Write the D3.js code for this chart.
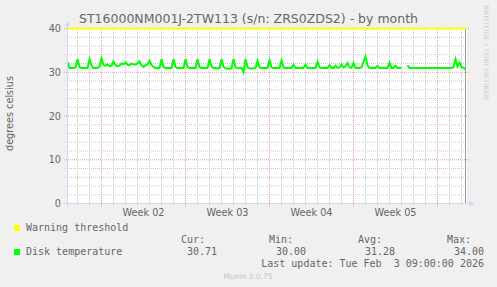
<!DOCTYPE html>
<html><head><meta charset="utf-8">
<script src="https://cdn.jsdelivr.net/npm/d3@7"></script>
<style>body{margin:0;background:#f0f0f0}svg{display:block}</style>
</head><body><svg id="c" width="497" height="287"></svg>
<script>
// ---- data ----
const title = "ST16000NM001J-2TW113 (s/n: ZRS0ZDS2) - by month";
const yLabel = "degrees celsius";
const yTicks = [0, 10, 20, 30, 40];
const weekLabels = ["Week 02", "Week 03", "Week 04", "Week 05"];
const weekStarts = ["2026-01-05", "2026-01-12", "2026-01-19", "2026-01-26"];
const viewStart = "2026-01-02T04:00:00Z";
const viewEnd = "2026-02-04T12:00:00Z";
const sampleStart = "2026-01-02T04:00:00Z";
const sampleStepHours = 4;
const warningThreshold = 40;
const temps = [
32.3,31.0,31.0,31.0,31.1,33.0,31.2,31.0,31.0,31.0,
31.0,33.0,31.6,31.0,31.0,31.0,31.3,33.2,31.6,31.5,
31.8,31.4,31.5,32.5,31.6,31.4,31.5,32.0,31.8,32.3,
31.7,31.6,32.0,31.8,31.8,32.0,32.5,31.6,31.2,31.6,
31.8,32.6,31.6,31.2,31.0,31.0,31.0,33.0,31.2,31.0,
31.0,31.0,31.0,33.0,31.2,31.0,31.0,31.0,31.0,33.0,
31.2,31.0,31.0,31.0,31.0,33.0,31.2,31.0,31.0,31.0,
31.0,33.0,31.3,31.0,31.0,30.9,30.9,33.0,31.2,30.9,
30.8,30.8,30.9,33.0,31.1,31.0,30.9,31.0,30.0,33.0,
31.2,30.9,30.8,30.9,31.0,32.6,31.1,31.0,31.0,31.0,
31.0,32.7,31.1,31.0,31.0,31.0,31.0,32.7,31.1,31.0,
31.0,31.0,31.0,31.7,31.0,31.0,31.0,31.0,31.0,31.7,
31.0,31.0,31.0,31.0,31.0,32.4,31.1,31.0,31.0,31.0,
31.0,31.6,31.0,31.0,31.5,31.0,31.1,31.8,31.1,31.3,
32.1,31.1,31.0,32.1,31.0,31.0,31.0,31.1,32.3,33.6,
31.6,31.0,31.0,31.0,31.0,31.4,31.0,31.0,31.0,31.0,
31.0,32.2,31.0,31.0,31.5,31.0,31.0,31.0,null,null,
31.6,31.0,31.0,31.0,31.0,31.0,31.0,31.0,31.0,31.0,
31.0,31.0,31.0,31.0,31.0,31.0,31.0,31.0,31.0,31.0,
31.0,31.0,31.0,31.2,33.0,31.3,32.2,31.2,31.0,30.7
];
const legendNames = ["Warning threshold", "Disk temperature"];
const statHeaders = ["Cur:", "Min:", "Avg:", "Max:"];
const statValues = ["30.71", "30.00", "31.28", "34.00"];
const lastUpdate = "Last update: Tue Feb  3 09:00:00 2026";
const version = "Munin 2.0.75";

// ---- drawing ----
const svg = d3.select("#c");
const FONT = "#666666", SANS = "'DejaVu Sans', sans-serif", MONO = "'DejaVu Sans Mono', monospace";
const x = d3.scaleUtc().domain([new Date(viewStart), new Date(viewEnd)]).range([67.5, 467.5]);
const y = d3.scaleLinear().domain([0, 40]).range([203.5, 28.5]);
const X0 = 67, X1 = 467, YT = 28, YB = 204;

svg.append("rect").attr("width", 497).attr("height", 287).attr("fill", "#f0f0f0");
svg.append("rect").attr("x", X0).attr("y", YT).attr("width", X1 - X0).attr("height", YB - YT).attr("fill", "#fff");

const g = svg.append("g");
// horizontal grid
const minorY = d3.range(0, 41, 2).filter(v => v % 10 !== 0);
g.selectAll(".hm").data(minorY).join("line")
  .attr("x1", X0 - 2).attr("x2", X1 + 2).attr("y1", d => y(d)).attr("y2", d => y(d))
  .attr("stroke", "#c8c8c8").attr("stroke-dasharray", "1,1");
g.selectAll(".hM").data(yTicks).join("line")
  .attr("x1", X0 - 3).attr("x2", X1 + 2).attr("y1", d => y(d)).attr("y2", d => y(d))
  .attr("stroke", "#e6a0a0").attr("stroke-dasharray", "1,1");
// vertical grid
const days = d3.utcDay.range(x.domain()[0], x.domain()[1]).filter(d => d > x.domain()[0]);
const mondays = weekStarts.map(s => new Date(s + "T00:00:00Z")).concat([new Date("2026-02-02T00:00:00Z")]);
const isMon = d => d.getUTCDay() === 1;
g.selectAll(".vm").data(days.filter(d => !isMon(d))).join("line")
  .attr("x1", d => Math.round(x(d) - 0.5) + 0.5).attr("x2", d => Math.round(x(d) - 0.5) + 0.5)
  .attr("y1", YT).attr("y2", YB + 2)
  .attr("stroke", "#c8c8c8").attr("stroke-dasharray", "1,1");
g.selectAll(".vM").data(mondays).join("line")
  .attr("x1", d => Math.round(x(d) - 0.5) + 0.5).attr("x2", d => Math.round(x(d) - 0.5) + 0.5)
  .attr("y1", YT).attr("y2", YB + 3)
  .attr("stroke", "#e6a0a0").attr("stroke-dasharray", "1,1");

// right marker line
svg.append("line").attr("x1", 465.5).attr("x2", 465.5).attr("y1", YT).attr("y2", YB)
  .attr("stroke", "#999").attr("stroke-width", 1);

// warning line
svg.append("line").attr("x1", X0).attr("x2", X1).attr("y1", y(warningThreshold)).attr("y2", y(warningThreshold))
  .attr("stroke", "#ffff00").attr("stroke-width", 2);

// data line
const t0 = new Date(sampleStart).getTime();
const pts = temps.map((v, i) => ({t: new Date(t0 + i * sampleStepHours * 3600e3), v}));
const line = d3.line().defined(d => d.v !== null).x(d => x(d.t)).y(d => y(d.v));
svg.append("path").attr("d", line(pts)).attr("fill", "none")
  .attr("stroke", "#00ff00").attr("stroke-width", 2).attr("stroke-linejoin", "miter");

// axes
const AX = "#cfd6f8";
svg.append("line").attr("x1", X0 - 4).attr("x2", X1 + 3).attr("y1", 203.5).attr("y2", 203.5).attr("stroke", AX);
svg.append("line").attr("x1", 67.5).attr("x2", 67.5).attr("y1", YB + 3).attr("y2", YT - 3).attr("stroke", AX);
svg.append("path").attr("d", `M${X1 + 2},200.5 L${X1 + 7},203.5 L${X1 + 2},206.5 Z`).attr("fill", AX);
svg.append("path").attr("d", `M64.5,${YT - 2} L67.5,${YT - 7} L70.5,${YT - 2} Z`).attr("fill", AX);

// y tick labels
svg.selectAll(".yl").data(yTicks).join("text")
  .attr("x", 61).attr("y", d => y(d) + 3.5).attr("text-anchor", "end")
  .attr("font-family", SANS).attr("font-size", 9.7).attr("fill", FONT).text(d => d);
// week labels
svg.selectAll(".wl").data(weekLabels).join("text")
  .attr("x", (d, i) => x(d3.utcHour.offset(new Date(weekStarts[i] + "T00:00:00Z"), 84)))
  .attr("y", 215.5).attr("text-anchor", "middle")
  .attr("font-family", SANS).attr("font-size", 9.7).attr("fill", FONT).text(d => d);

// title
svg.append("text").attr("x", 248.5).attr("y", 23).attr("text-anchor", "middle")
  .attr("font-family", SANS).attr("font-size", 12.5).attr("fill", FONT).text(title);
// y label
svg.append("text").attr("transform", "translate(13,113.5) rotate(-90)").attr("text-anchor", "middle")
  .attr("font-family", SANS).attr("font-size", 9.7).attr("fill", FONT).text(yLabel);
// side watermark
svg.append("text").attr("transform", "translate(484,5) rotate(90)")
  .attr("font-family", SANS).attr("font-size", 6).attr("fill", "#cccccc")
  .attr("textLength", 95).attr("lengthAdjust", "spacingAndGlyphs").text("RRDTOOL / TOBI OETIKER");

// legend
const legColors = ["#ffff00", "#00ff00"];
const legY = [231, 255];
legendNames.forEach((n, i) => {
  svg.append("rect").attr("x", 14).attr("y", legY[i] - 6).attr("width", 6).attr("height", 6).attr("fill", legColors[i]);
  svg.append("text").attr("x", 26).attr("y", legY[i]).attr("font-family", MONO).attr("font-size", 10)
    .attr("fill", FONT).text(n);
});
const hdrX = [181, 269, 358, 447];
const valX = [217, 306, 395, 484];
statHeaders.forEach((h, i) => {
  svg.append("text").attr("x", hdrX[i]).attr("y", 243).attr("font-family", MONO).attr("font-size", 10)
    .attr("fill", FONT).text(h);
  svg.append("text").attr("x", valX[i]).attr("y", 255).attr("text-anchor", "end").attr("font-family", MONO)
    .attr("font-size", 10).attr("fill", FONT).text(statValues[i]);
});
svg.append("text").attr("x", 484).attr("y", 267).attr("text-anchor", "end").attr("font-family", MONO)
  .attr("font-size", 10).attr("fill", FONT).style("white-space", "pre").text(lastUpdate);
svg.append("text").attr("x", 248).attr("y", 279).attr("text-anchor", "middle").attr("font-family", SANS)
  .attr("font-size", 7.5).attr("fill", "#c4c4c4").text(version);
</script></body></html>
